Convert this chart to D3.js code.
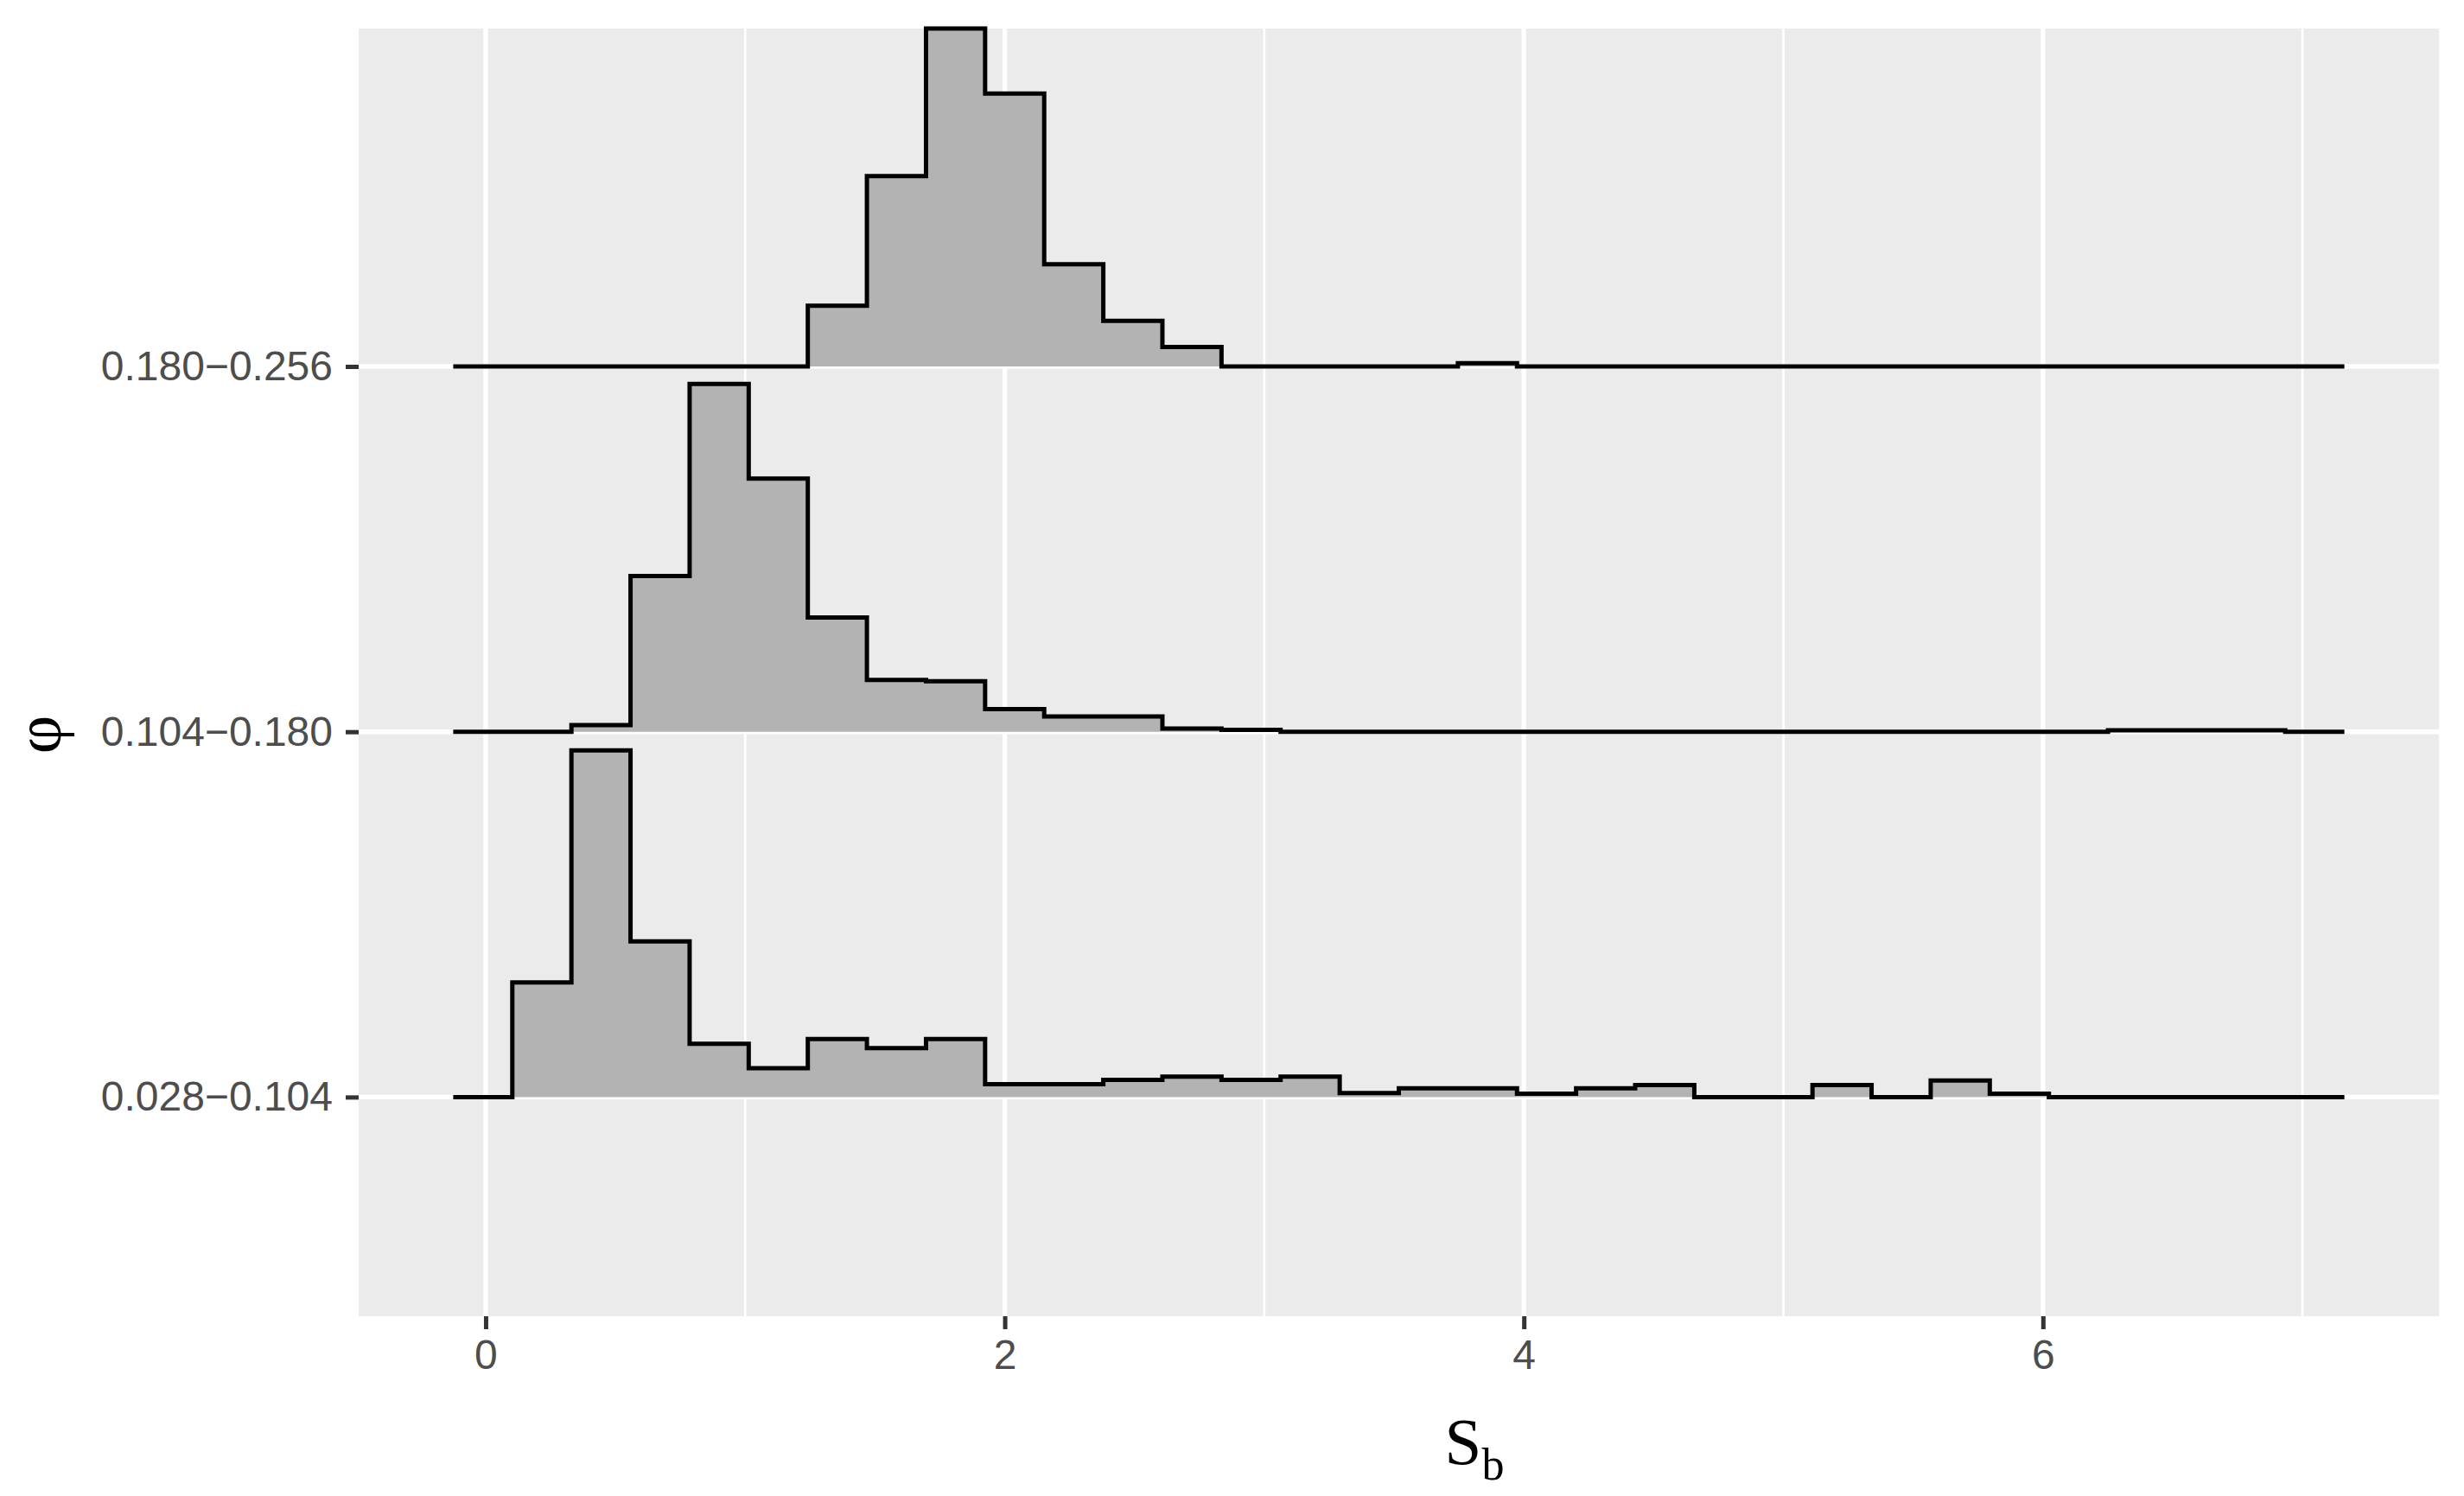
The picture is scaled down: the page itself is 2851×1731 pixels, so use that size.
<!DOCTYPE html>
<html>
<head>
<meta charset="utf-8">
<script src="https://cdn.jsdelivr.net/npm/d3@7"></script>
<style>
  body { margin: 0; background: #fff; }
  svg { display: block; }
</style>
</head>
<body>
<script>
// ridge categories, bottom to top
const groups = ["0.028\u22120.104", "0.104\u22120.180", "0.180\u22120.256"];

// histogram bins (30 bins of equal width), heights in ridge units
const binStart = 0.1027;
const binWidth = 0.2277;

const heightsLow = [0.314, 0.949, 0.426, 0.146, 0.079, 0.159, 0.134, 0.159, 0.035, 0.035,
                    0.047, 0.056, 0.047, 0.056, 0.011, 0.024, 0.024, 0.009, 0.024, 0.033,
                    0, 0, 0.033, 0, 0.045, 0.009, 0, 0, 0, 0];
const heightsMid = [0, 0.018, 0.426, 0.952, 0.693, 0.313, 0.142, 0.138, 0.062, 0.042,
                    0.042, 0.009, 0.005, 0, 0, 0, 0, 0, 0, 0,
                    0, 0, 0, 0, 0, 0, 0, 0.004, 0.004, 0.004];
const heightsHigh = [0, 0, 0, 0, 0, 0.166, 0.521, 0.925, 0.747, 0.280,
                     0.125, 0.053, 0, 0, 0, 0, 0.009, 0, 0, 0,
                     0, 0, 0, 0, 0, 0, 0, 0, 0, 0];
const series = [heightsLow, heightsMid, heightsHigh];

const xTicks = [0, 2, 4, 6];
const xMinor = [1, 3, 5, 7];

const W = 2851, H = 1731;
const panel = { left: 415, right: 2822, top: 33, bottom: 1523 };

const svg = d3.select("body").append("svg")
    .attr("width", W)
    .attr("height", H);

// padded x range: one empty bin on each side, then 5% expansion
const nBins = heightsLow.length;
const xLo = binStart - binWidth, xHi = binStart + (nBins + 1) * binWidth;
const pad = (xHi - xLo) * 0.05;

const x = d3.scaleLinear()
    .domain([xLo - pad, xHi + pad])
    .range([panel.left, panel.right]);

const topMax = d3.max(heightsHigh);
const y = d3.scaleLinear()
    .domain([0.4, groups.length + topMax])
    .range([panel.bottom, panel.top]);

// panel
svg.append("rect")
    .attr("x", panel.left).attr("y", panel.top)
    .attr("width", panel.right - panel.left)
    .attr("height", panel.bottom - panel.top)
    .attr("fill", "#EBEBEB");

const grid = svg.append("g");
grid.selectAll("line.minor")
    .data(xMinor)
    .join("line")
    .attr("x1", d => x(d)).attr("x2", d => x(d))
    .attr("y1", panel.top).attr("y2", panel.bottom)
    .attr("stroke", "#fff").attr("stroke-width", 2.7);
grid.selectAll("line.major")
    .data(xTicks)
    .join("line")
    .attr("x1", d => x(d)).attr("x2", d => x(d))
    .attr("y1", panel.top).attr("y2", panel.bottom)
    .attr("stroke", "#fff").attr("stroke-width", 5.4);
grid.selectAll("line.hy")
    .data(groups)
    .join("line")
    .attr("x1", panel.left).attr("x2", panel.right)
    .attr("y1", (d, i) => y(i + 1)).attr("y2", (d, i) => y(i + 1))
    .attr("stroke", "#fff").attr("stroke-width", 5.4);

// ridges: build step points with an empty bin on both sides
function stepPoints(h) {
    const vals = [0, ...h, 0];
    const pts = vals.map((v, k) => ({ x: xLo + k * binWidth, h: v }));
    pts.push({ x: xLo + vals.length * binWidth, h: 0 });
    return pts;
}

const ridges = svg.append("g");
// draw top ridge first so lower ridges sit over it
for (let i = series.length - 1; i >= 0; i--) {
    const base = i + 1;
    const pts = stepPoints(series[i]);
    const area = d3.area()
        .x(d => x(d.x))
        .y0(y(base))
        .y1(d => y(base + d.h))
        .curve(d3.curveStepAfter);
    const line = d3.line()
        .x(d => x(d.x))
        .y(d => y(base + d.h))
        .curve(d3.curveStepAfter);
    ridges.append("path")
        .attr("d", area(pts))
        .attr("fill", "#B3B3B3");
    ridges.append("path")
        .attr("d", line(pts))
        .attr("fill", "none")
        .attr("stroke", "#000")
        .attr("stroke-width", 5)
        .attr("stroke-linejoin", "miter");
}

// axes
const xAxis = svg.append("g")
    .attr("transform", `translate(0,${panel.bottom})`)
    .call(d3.axisBottom(x).tickValues(xTicks).tickSize(15).tickPadding(12).tickFormat(d3.format("d")));

const yAxis = svg.append("g")
    .attr("transform", `translate(${panel.left},0)`)
    .call(d3.axisLeft(y).tickValues([1, 2, 3]).tickSize(15).tickPadding(15)
        .tickFormat(d => groups[d - 1]));

[xAxis, yAxis].forEach(g => {
    g.select(".domain").remove();
    g.selectAll(".tick line").attr("stroke", "#333").attr("stroke-width", 5);
    g.selectAll(".tick text")
        .attr("fill", "#4D4D4D")
        .style("font-family", "'Liberation Sans', Arial, sans-serif")
        .style("font-size", "48px");
});

// axis titles
const xt = svg.append("text")
    .attr("x", 1706)
    .attr("y", 1694)
    .attr("text-anchor", "middle")
    .style("font-family", "'Liberation Serif', 'Times New Roman', serif")
    .style("font-size", "77px")
    .attr("fill", "#000");
xt.append("tspan").text("S");
xt.append("tspan").attr("dy", 18).style("font-size", "52px").text("b");

svg.append("text")
    .attr("transform", "translate(70,850) rotate(-90)")
    .attr("text-anchor", "middle")
    .style("font-family", "'Liberation Serif', 'Times New Roman', serif")
    .style("font-size", "77px")
    .attr("fill", "#000")
    .text("\u03C6");
</script>
</body>
</html>
